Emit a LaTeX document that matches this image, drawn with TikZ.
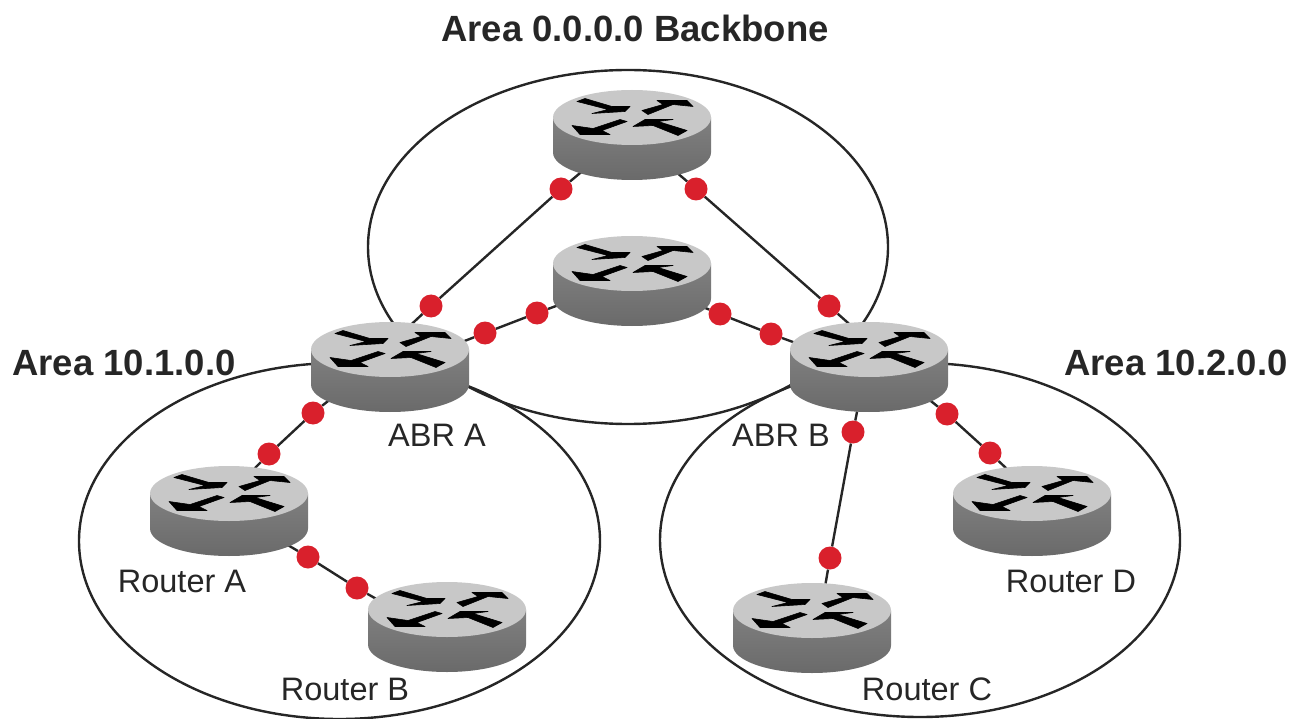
\documentclass[tikz,border=0pt]{standalone}
\usepackage{fontspec}
\setmainfont{Liberation Sans}
\usetikzlibrary{shapes.geometric,backgrounds}
\definecolor{rimgray}{HTML}{C8C8C8}
\definecolor{sidetop}{HTML}{808080}
\definecolor{sidelow}{HTML}{6A6A6A}
\definecolor{portred}{HTML}{D9202C}
\tikzset{
  router/.style={ellipse,minimum width=158pt,minimum height=90pt,inner sep=0pt,outer sep=0pt},
  port/.style={circle,fill=portred,minimum size=23pt,inner sep=0pt},
  link/.style={line width=2.4pt,draw=black!85},
  area/.style={line width=2.4pt,draw=black!85},
  arealabel/.style={font=\fontsize{36.5}{40}\selectfont\bfseries,text=black!85},
  rtlabel/.style={font=\fontsize{32.5}{36}\selectfont,text=black!85},
  arrowpart/.style={fill=black,draw=black,line width=0.6pt,line join=round},
  routerbody/.pic={
    \shade[top color=sidetop,bottom color=sidelow] (-79,-17.5) -- (-79,17.5)
      arc [start angle=180,end angle=0,x radius=79,y radius=27.5] -- (79,-17.5) -- cycle;
    \fill[rimgray] (0,-17.5) ellipse [x radius=79,y radius=27.5];
    \begin{scope}[yshift=17.5pt]
      \path[arrowpart] (-55,-16) -- (-47,-19) -- (-20,-11) -- (-2,-11) -- (-7,-6) -- (-40,-4) -- (-24,-8) -- cycle;
      \path[arrowpart] (10,-7) -- (31,-13) -- (25,-17) -- (55,-17) -- (61,-11) -- (41,-13) -- (16,-3) -- cycle;
      \path[arrowpart] (-60,8) -- (-39,11) -- (-12,2) -- (-5,4) -- (-30,13) -- (-22,17) -- (-52,17) -- cycle;
      \path[arrowpart] (1,9) -- (13,2) -- (41,2) -- (26,4) -- (55,13) -- (46,18) -- (21,8) -- cycle;
    \end{scope}
  }
}

\begin{document}
\begin{tikzpicture}[x=1pt,y=-1pt]
\useasboundingbox (0,0) rectangle (1298,719);

\node[router] (rtop) at (632,135) {};
\node[router] (rmid) at (632,281) {};
\node[router] (abra) at (390,367) {};
\node[router] (abrb) at (869,367) {};
\node[router] (rtra) at (229,511) {};
\node[router] (rtrb) at (447,627) {};
\node[router] (rtrc) at (812,628) {};
\node[router] (rtrd) at (1032,511) {};

\foreach \r in {rtop,rmid,abra,abrb,rtra,rtrb,rtrc,rtrd}
  \pic at (\r.center) {routerbody};

\node[port] (p1) at (561,189) {};
\node[port] (p2) at (431,306) {};
\node[port] (p3) at (696,189) {};
\node[port] (p4) at (829,306) {};
\node[port] (p5) at (537,313) {};
\node[port] (p6) at (485,333) {};
\node[port] (p7) at (720,314) {};
\node[port] (p8) at (771,334) {};
\node[port] (p9) at (313,413) {};
\node[port] (p10) at (269,454) {};
\node[port] (p11) at (308,557) {};
\node[port] (p12) at (357,588) {};
\node[port] (p13) at (853,432) {};
\node[port] (p14) at (830,558) {};
\node[port] (p15) at (947,414) {};
\node[port] (p16) at (990,453) {};

\begin{scope}[on background layer]
  \draw[area] (628,247) ellipse [x radius=260,y radius=177];
  \draw[area] (339.5,541) ellipse [x radius=260.5,y radius=178];
  \draw[area] (920,540) ellipse [x radius=260,y radius=177];

  \draw[link] (rtop.216) -- (p1) -- (p2) -- (abra.63);
  \draw[link] (rtop.320) -- (p3) -- (p4) -- (abrb.115);
  \draw[link] (rmid.198) -- (p5) -- (p6) -- (abra.19);
  \draw[link] (rmid.340) -- (p7) -- (p8) -- (abrb.162);
  \draw[link] (abra.208) -- (p9) -- (p10) -- (rtra.59);
  \draw[link] (rtra.330) -- (p11) -- (p12) -- (rtrb.159);
  \draw[link] (abrb.255) -- (p13) -- (p14) -- (rtrc.73);
  \draw[link] (abrb.332) -- (p15) -- (p16) -- (rtrd.121);
\end{scope}

\node[arealabel] (lbb) at (635,28) {Area 0.0.0.0 Backbone};
\node[arealabel] (lar) at (124,363) {Area 10.1.0.0};
\node[arealabel] (lbr) at (1176,363) {Area 10.2.0.0};
\node[rtlabel] (labra) at (437,435) {ABR A};
\node[rtlabel] (labrb) at (781,435) {ABR B};
\node[rtlabel] (lra) at (182,581) {Router A};
\node[rtlabel] (lrb) at (345,689) {Router B};
\node[rtlabel] (lrc) at (927,689) {Router C};
\node[rtlabel] (lrd) at (1071,581) {Router D};
\end{tikzpicture}
\end{document}
